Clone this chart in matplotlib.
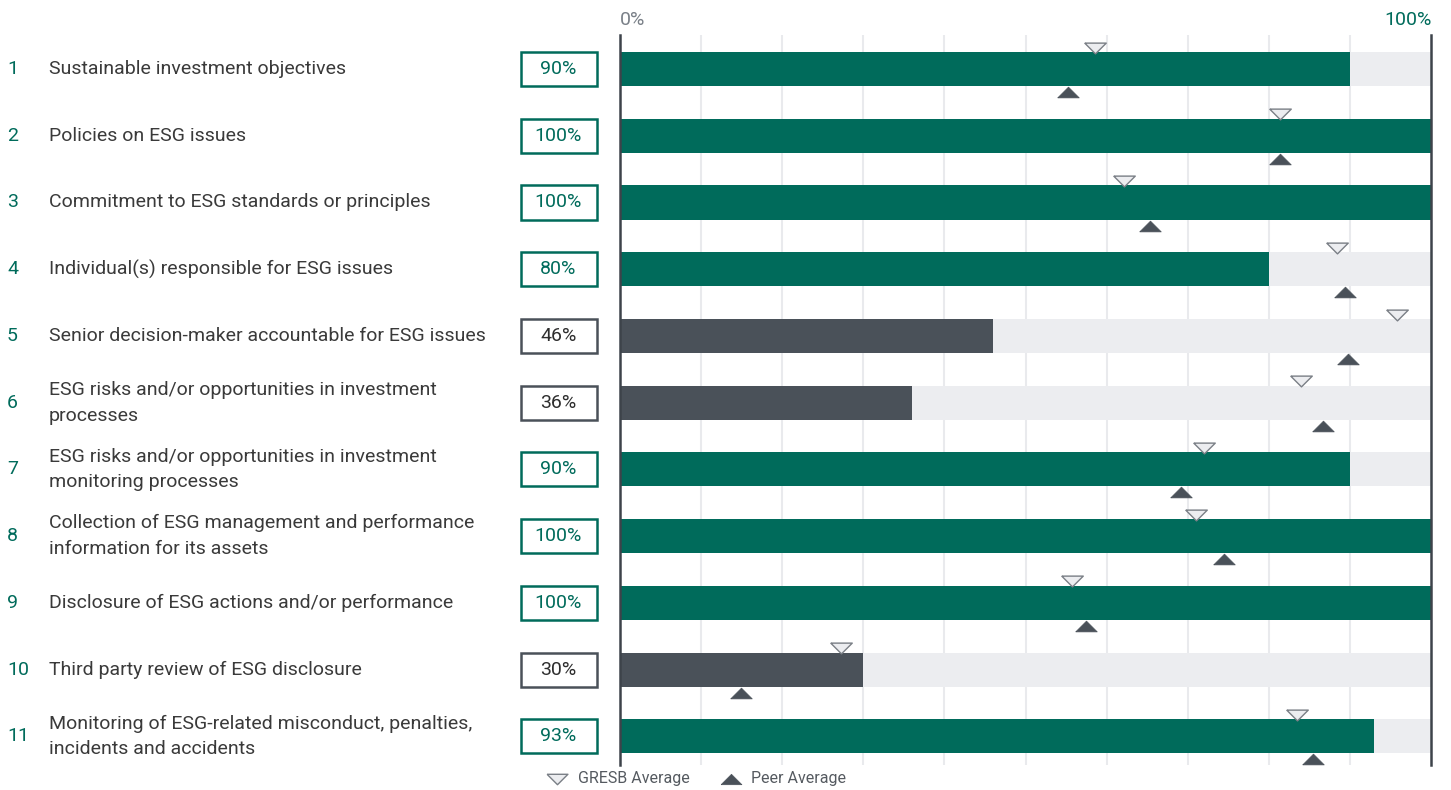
import matplotlib
matplotlib.use('Agg')
import matplotlib.pyplot as plt
from matplotlib.patches import Rectangle
from matplotlib.transforms import blended_transform_factory

plt.rcParams['font.family'] = ['Roboto', 'DejaVu Sans']

# data
labels = [
    'Sustainable investment objectives',
    'Policies on ESG issues',
    'Commitment to ESG standards or principles',
    'Individual(s) responsible for ESG issues',
    'Senior decision-maker accountable for ESG issues',
    'ESG risks and/or opportunities in investment\nprocesses',
    'ESG risks and/or opportunities in investment\nmonitoring processes',
    'Collection of ESG management and performance\ninformation for its assets',
    'Disclosure of ESG actions and/or performance',
    'Third party review of ESG disclosure',
    'Monitoring of ESG-related misconduct, penalties,\nincidents and accidents',
]
scores = [90, 100, 100, 80, 46, 36, 90, 100, 100, 30, 93]
gresb_avg = [58.6, 81.4, 62.1, 88.4, 95.8, 84.0, 72.0, 71.0, 55.7, 27.3, 83.5]
peer_avg = [55.2, 81.4, 65.4, 89.4, 89.8, 86.7, 69.2, 74.5, 57.5, 14.9, 85.4]

GREEN = '#006B5B'
DARK = '#4A5159'
LIGHT = '#ECEDF0'
TEXT = '#3A3A3A'

W, H = 1451, 790
fig = plt.figure(figsize=(W / 100, H / 100), dpi=100)
ax = fig.add_axes([620 / W, 25 / H, 811 / W, 730 / H])

n = len(labels)
rows = list(range(n))
ax.set_xlim(0, 100)
ax.set_ylim(10.43, -0.51)

# gridlines
for g in range(10, 100, 10):
    ax.axvline(g, color='#E9EAED', lw=1.5, zorder=0)

# bars
bar_h = 0.51
ax.barh(rows, [100] * n, height=bar_h, color=LIGHT, zorder=1)
colors = [GREEN if s >= 50 else DARK for s in scores]
ax.barh(rows, scores, height=bar_h, color=colors, zorder=2)

# markers (closed triangles, flatter than the default ones)
down_tri = [(-1, 0.5), (1, 0.5), (0, -0.5), (-1, 0.5)]
up_tri = [(-1, -0.5), (1, -0.5), (0, 0.5), (-1, -0.5)]
ax.plot(gresb_avg, [r - 0.32 for r in rows], ls='none', marker=down_tri, ms=15.5,
        mfc=LIGHT, mec='#7A7F86', mew=1, zorder=4, clip_on=False)
ax.plot(peer_avg, [r + 0.345 for r in rows], ls='none', marker=up_tri, ms=15.5,
        mfc=DARK, mec=DARK, mew=0.5, zorder=4, clip_on=False)

# spines / ticks
for side in ['top', 'bottom']:
    ax.spines[side].set_visible(False)
for side in ['left', 'right']:
    ax.spines[side].set_color('#3D434A')
    ax.spines[side].set_linewidth(1.8)
ax.set_xticks([])
ax.set_yticks([])

# left side texts and boxes
tr = blended_transform_factory(fig.transFigure, ax.transData)
for i, (lab, s, c) in enumerate(zip(labels, scores, colors)):
    ax.text(7 / W, i, str(i + 1), transform=tr, color=GREEN, fontsize=14,
            ha='left', va='center')
    ax.text(49 / W, i, lab, transform=tr, color=TEXT, fontsize=14,
            ha='left', va='center', linespacing=1.55)
    ax.add_patch(Rectangle((521 / W, i - 0.255), 76 / W, 0.51, transform=tr,
                           fill=False, ec=c, lw=1.8, clip_on=False))
    ax.text(558.5 / W, i, f'{s}%', transform=tr, color=GREEN if c == GREEN else '#2E2E2E',
            fontsize=14, ha='center', va='center')

# top scale labels
fig.text(620 / W, 1 - 20 / H, '0%', color='#7A8088', fontsize=14, ha='left', va='center')
fig.text(1432 / W, 1 - 20 / H, '100%', color=GREEN, fontsize=14, ha='right', va='center')

# legend
fig.add_artist(plt.Line2D([557 / W], [1 - 779 / H], ls='none', marker=down_tri, ms=15,
                          mfc=LIGHT, mec='#7A7F86', mew=1, transform=fig.transFigure))
fig.text(578 / W, 1 - 779 / H, 'GRESB Average', color='#555A60', fontsize=11.5,
         ha='left', va='center')
fig.add_artist(plt.Line2D([731 / W], [1 - 779 / H], ls='none', marker=up_tri, ms=15,
                          mfc=DARK, mec=DARK, mew=0.5, transform=fig.transFigure))
fig.text(751 / W, 1 - 779 / H, 'Peer Average', color='#555A60', fontsize=11.5,
         ha='left', va='center')

fig.savefig('out.png', dpi=100)
